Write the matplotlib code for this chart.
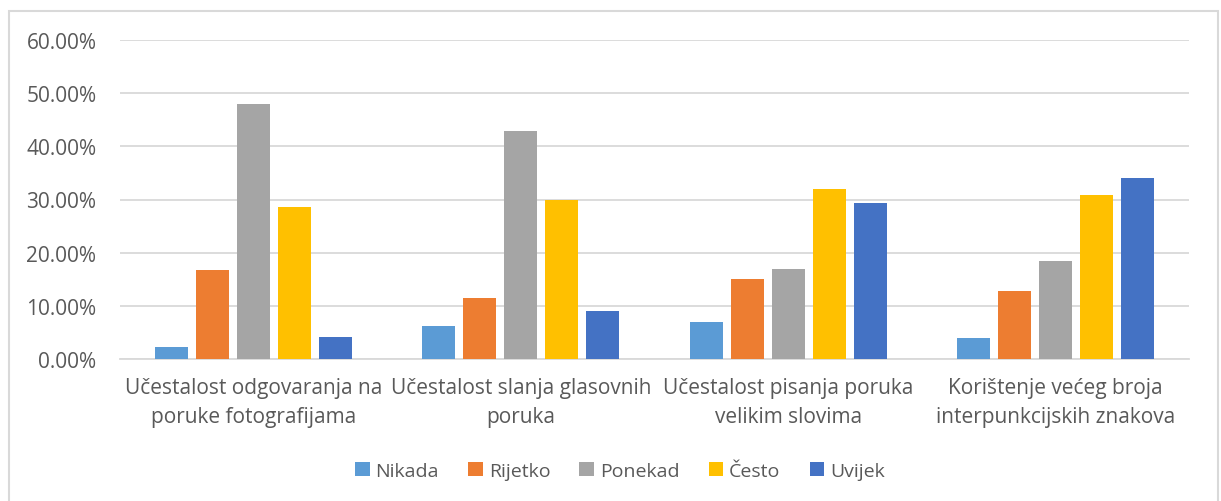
import matplotlib.pyplot as plt
import numpy as np
from matplotlib.patches import Rectangle
from matplotlib.ticker import FuncFormatter

plt.rcParams['font.family'] = ['Open Sans', 'DejaVu Sans']

categories = [
    "Učestalost odgovaranja na\nporuke fotografijama",
    "Učestalost slanja glasovnih\nporuka",
    "Učestalost pisanja poruka\nvelikim slovima",
    "Korištenje većeg broja\ninterpunkcijskih znakova",
]
series = ["Nikada", "Rijetko", "Ponekad", "Često", "Uvijek"]
nikada = [2.3, 6.3, 6.9, 3.9]
rijetko = [16.8, 11.5, 15.0, 12.7]
ponekad = [48.0, 42.8, 16.9, 18.4]
cesto = [28.5, 30.0, 31.9, 30.8]
uvijek = [4.1, 9.0, 29.3, 34.1]
values = [nikada, rijetko, ponekad, cesto, uvijek]
colors = ["#5B9BD5", "#ED7D31", "#A5A5A5", "#FFC000", "#4472C4"]

W, H = 1221, 502
fig = plt.figure(figsize=(W / 100, H / 100), dpi=100)
ax = fig.add_axes([120 / W, 1 - 360 / H, (1189 - 120) / W, (360 - 41) / H])

x = np.arange(len(categories))
step = 0.1535
width = 0.1236
for i, (name, vals, c) in enumerate(zip(series, values, colors)):
    ax.bar(x + (i - 2) * step, np.array(vals) / 100, width, color=c, label=name, zorder=3)

ax.set_xlim(-0.5, len(categories) - 0.5)
ax.set_ylim(0, 0.6)
ax.set_yticks(np.arange(0, 0.61, 0.1))
ax.yaxis.set_major_formatter(FuncFormatter(lambda v, p: f"{v * 100:.2f}%"))
ax.grid(axis='y', color='#d9d9d9', linewidth=1.3, zorder=0)
for s in ['top', 'right', 'left']:
    ax.spines[s].set_visible(False)
ax.spines['bottom'].set_color('#d9d9d9')
ax.spines['bottom'].set_linewidth(1.3)
ax.set_xticks(x)
ax.set_xticklabels(categories, linespacing=1.5)
ax.tick_params(axis='both', length=0, labelsize=15, colors='#595959')
ax.tick_params(axis='y', pad=17)
ax.tick_params(axis='x', pad=13)

leg = fig.legend(loc='center', bbox_to_anchor=(620 / W, 1 - 472 / H), ncol=5, frameon=False,
                 fontsize=14, handlelength=0.75, handleheight=0.75, handletextpad=0.3,
                 columnspacing=1.5)
for t in leg.get_texts():
    t.set_color('#595959')

fig.patches.append(Rectangle((9 / W, -0.05), (1218 - 9) / W, 1 - 12 / H + 0.05,
                             transform=fig.transFigure, fill=False, edgecolor='#d9d9d9',
                             linewidth=1.5))

fig.savefig("out.png", dpi=100)
